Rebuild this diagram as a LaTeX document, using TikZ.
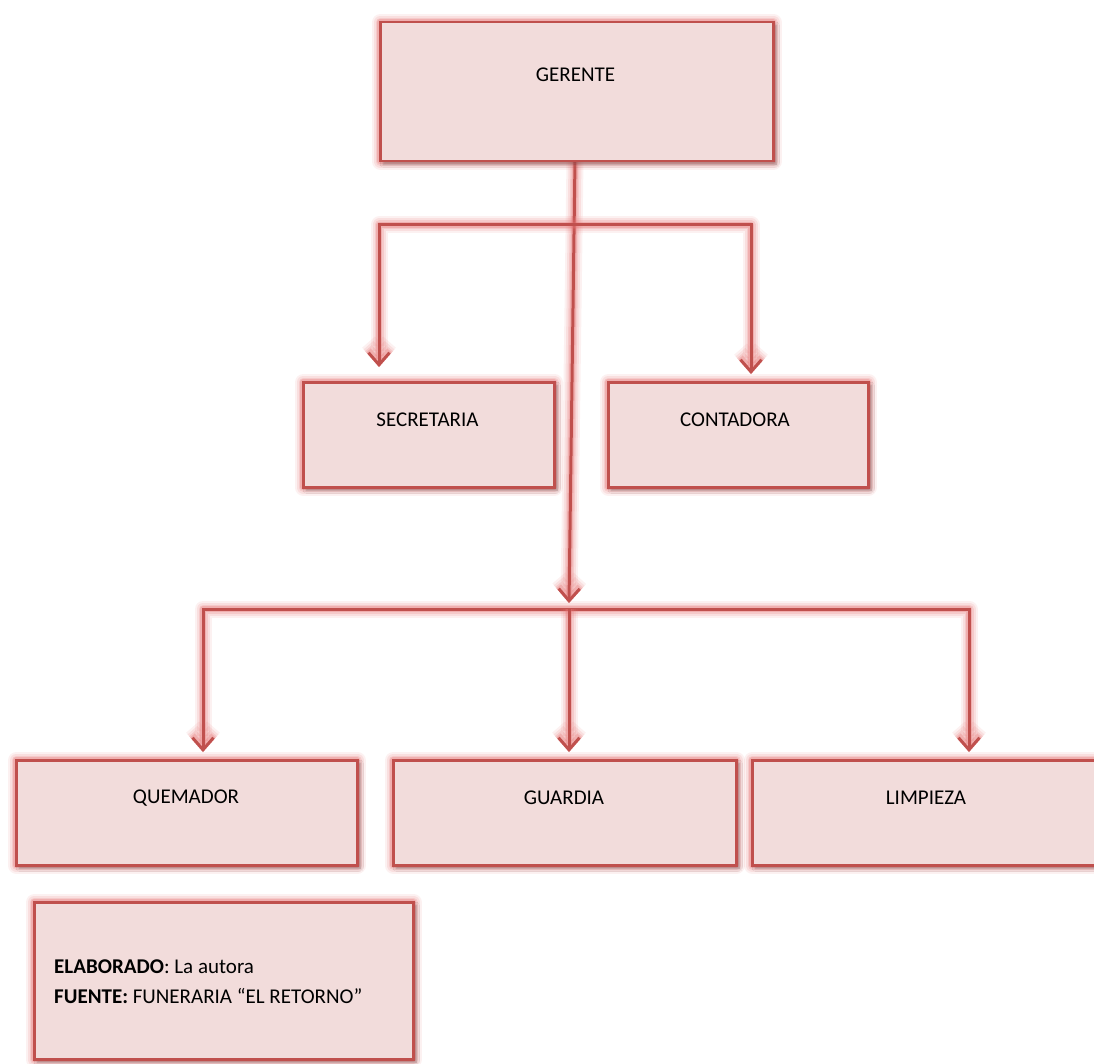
\documentclass[tikz,border=0pt]{standalone}
\usepackage{fontspec}
\setmainfont{Carlito}
\usetikzlibrary{arrows.meta,shadows.blur}
\definecolor{boxfill}{HTML}{F2DCDB}
\definecolor{bord}{HTML}{C0504D}
\definecolor{glowc}{HTML}{E57373}
\begin{document}
\begin{tikzpicture}[x=1pt,y=-1pt,
  glowlayers/.style={
    preaction={draw=glowc, line width=17pt, draw opacity=.10, line join=round},
    preaction={draw=glowc, line width=13pt, draw opacity=.14, line join=round},
    preaction={draw=glowc, line width=9pt, draw opacity=.2, line join=round},
    preaction={draw=glowc, line width=6pt, draw opacity=.3, line join=round}},
  box/.style={rectangle, fill=boxfill, draw=bord, line width=2.5pt, inner sep=0pt,
    glowlayers,
    blur shadow={shadow xshift=3pt, shadow yshift=-3pt, shadow blur radius=3pt, shadow opacity=30}},
  lbl/.style={inner sep=0pt, font=\fontsize{21}{24}\selectfont, text=black},
  barb/.tip={Straight Barb[length=12pt,width=21pt]},
  conn/.style={draw=bord, line width=3pt, glowlayers},
]
\useasboundingbox (0,0) rectangle (1094,1064);

% connectors (drawn first, boxes over them)
\coordinate (t1) at (569,603);
\coordinate (ul) at (379,225);
\coordinate (ur) at (751,225);
\coordinate (sl) at (379,367);
\coordinate (cr) at (751,374);
\coordinate (ll) at (203,609);
\coordinate (lr) at (969,609);
\coordinate (gm) at (569,609);
\coordinate (qt) at (203,752);
\coordinate (gt2) at (569,752);
\coordinate (lt) at (969,752);
\coordinate (gs) at (575,160);

\draw[conn, -barb] (gs) -- (t1);
\draw[conn, barb-barb] (sl) -- (ul) -- (ur) -- (cr);
\draw[conn, barb-barb] (qt) -- (ll) -- (lr) -- (lt);
\draw[conn, -barb] (gm) -- (gt2);

% boxes
\node[box, minimum width=393pt, minimum height=139pt, anchor=north west] (g) at (379,21) {};
\node[box, minimum width=251pt, minimum height=105pt, anchor=north west] (s) at (302,381) {};
\node[box, minimum width=260pt, minimum height=105pt, anchor=north west] (c) at (607,381) {};
\node[box, minimum width=341pt, minimum height=105pt, anchor=north west] (q) at (15,759) {};
\node[box, minimum width=343pt, minimum height=105pt, anchor=north west] (gu) at (392,759) {};
\node[box, minimum width=350pt, minimum height=105pt, anchor=north west] (li) at (751,759) {};
\node[box, minimum width=379pt, minimum height=157pt, anchor=north west] (nb) at (33,901) {};

% texts
\node[lbl] (gtx) at (575.5,75) {GERENTE};
\node[lbl] (stx) at (427.5,420) {SECRETARIA};
\node[lbl] (ctx) at (735,420) {CONTADORA};
\node[lbl] (qtx) at (186,798) {QUEMADOR};
\node[lbl] (gutx) at (564,798) {GUARDIA};
\node[lbl] (ltx) at (926,798) {LIMPIEZA};
\node[lbl, anchor=west, align=left, font=\fontsize{21}{30}\selectfont] (ntx) at (54,982)
  {\textbf{ELABORADO}: La autora\\\textbf{FUENTE:} FUNERARIA “EL RETORNO”};
\end{tikzpicture}
\end{document}
